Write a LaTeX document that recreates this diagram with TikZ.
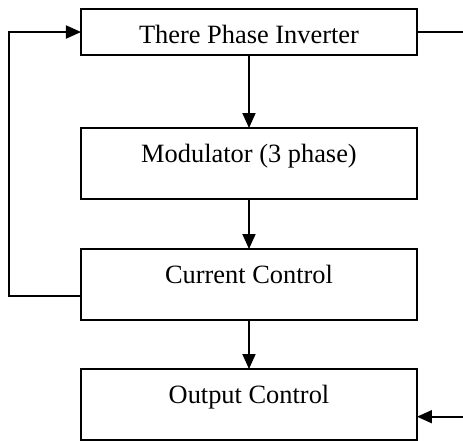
\documentclass[tikz,border=0pt]{standalone}
\usepackage{fontspec}
\setmainfont{Liberation Serif}
\usetikzlibrary{arrows.meta, positioning, calc}

\begin{document}
\begin{tikzpicture}[
    node distance=25pt,
    block/.style={rectangle, draw=black, line width=0.9pt, outer sep=0pt, inner xsep=0pt, inner ysep=0pt, minimum width=168pt, text height=17.2pt, text depth=5.8pt, align=center, font=\fontsize{13.2}{15}\selectfont},
    tallblock/.style={block, text depth=18.3pt},
    line/.style={draw=black, line width=0.9pt, -{Triangle[length=7.5pt, width=6.5pt]}},
    wire/.style={draw=black, line width=0.9pt}
]
\useasboundingbox (0,0) rectangle (231.5pt,-220.5pt);

\node[block, anchor=north] (inv) at (124.5pt,-4.5pt) {There Phase Inverter};
\node[tallblock, below=36.5pt of inv] (mod) {Modulator (3 phase)};
\node[tallblock, below=25pt of mod] (cur) {Current Control};
\node[tallblock, below=24.5pt of cur] (outc) {Output Control};

\coordinate (fb) at ([xshift=-36pt, yshift=-5.75pt]cur.west);
\coordinate (invout) at ([xshift=23pt]inv.east);
\coordinate (outin) at ([xshift=23pt, yshift=-6.1pt]outc.east);

\draw[line] (inv) -- (mod);
\draw[line] (mod) -- (cur);
\draw[line] (cur) -- (outc);

\draw[line] ([yshift=-5.75pt]cur.west) -- (fb) |- (inv.west);
\draw[wire] (inv.east) -- (invout);
\draw[line] (outin) -- ([yshift=-6.1pt]outc.east);

\end{tikzpicture}
\end{document}
